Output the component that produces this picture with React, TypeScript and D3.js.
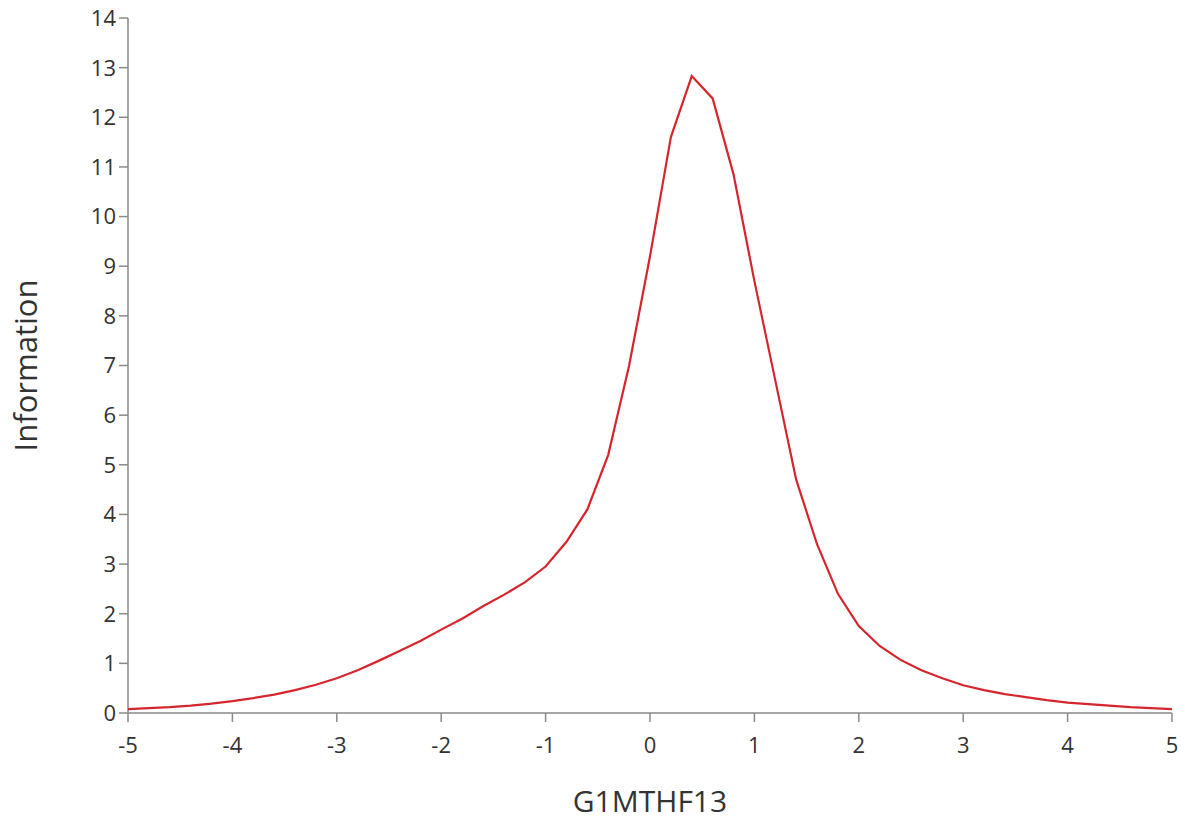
import React from "react";
import * as d3 from "d3";

const thetaValues: number[] = [
  -5, -4.8, -4.6, -4.4, -4.2, -4, -3.8, -3.6, -3.4, -3.2, -3, -2.8, -2.6, -2.4, -2.2, -2, -1.8, -1.6, -1.4, -1.2,
  -1, -0.8, -0.6, -0.4, -0.2, 0, 0.2, 0.4, 0.6, 0.8, 1, 1.2, 1.4, 1.6, 1.8, 2, 2.2, 2.4, 2.6, 2.8,
  3, 3.2, 3.4, 3.6, 3.8, 4, 4.2, 4.4, 4.6, 4.8, 5,
];
const informationValues: number[] = [
  0.08, 0.1, 0.12, 0.15, 0.19, 0.24, 0.3, 0.37, 0.46, 0.57, 0.7, 0.86, 1.05, 1.25, 1.45, 1.68, 1.9, 2.15, 2.38, 2.63,
  2.95, 3.45, 4.1, 5.2, 7.0, 9.2, 11.6, 12.83, 12.38, 10.85, 8.7, 6.7, 4.7, 3.4, 2.4, 1.75, 1.35, 1.07, 0.86, 0.7,
  0.56, 0.46, 0.38, 0.32, 0.26, 0.21, 0.18, 0.15, 0.12, 0.1, 0.08,
];
const xTicks: number[] = [-5, -4, -3, -2, -1, 0, 1, 2, 3, 4, 5];
const yTicks: number[] = [0, 1, 2, 3, 4, 5, 6, 7, 8, 9, 10, 11, 12, 13, 14];
const xTitle = "G1MTHF13";
const yTitle = "Information";

const W = 1185;
const H = 820;
const left = 128;
const right = 1172;
const top = 18;
const bottom = 713;

export default function App() {
  const x = d3.scaleLinear().domain([-5, 5]).range([left, right]);
  const y = d3.scaleLinear().domain([0, 14]).range([bottom, top]);
  const pts: [number, number][] = thetaValues.map((t, i) => [t, informationValues[i]]);
  const line = d3
    .line<[number, number]>()
    .x((d) => x(d[0]))
    .y((d) => y(d[1]));
  const axisColor = "#8a8a8a";
  const textColor = "#333333";
  const font = "'Open Sans', 'Segoe UI', sans-serif";
  return (
    <svg
      width={W}
      height={H}
      style={{ position: "absolute", left: 0, top: 0, background: "#ffffff" }}
    >
      <rect x={0} y={0} width={W} height={H} fill="#ffffff" />
      {/* y axis */}
      <line x1={left} x2={left} y1={top} y2={bottom} stroke={axisColor} strokeWidth={1.5} />
      {yTicks.map((t) => (
        <g key={"y" + t}>
          <line x1={left - 9} x2={left} y1={y(t)} y2={y(t)} stroke={axisColor} strokeWidth={1.5} />
          <text
            x={left - 12}
            y={y(t)}
            dy="0.36em"
            textAnchor="end"
            fontFamily={font}
            fontSize={22}
            fill={textColor}
          >
            {t}
          </text>
        </g>
      ))}
      {/* x axis */}
      <line x1={left} x2={right} y1={bottom} y2={bottom} stroke={axisColor} strokeWidth={1.5} />
      {xTicks.map((t) => (
        <g key={"x" + t}>
          <line x1={x(t)} x2={x(t)} y1={bottom} y2={bottom + 9} stroke={axisColor} strokeWidth={1.5} />
          <text
            x={x(t)}
            y={bottom + 40}
            textAnchor="middle"
            fontFamily={font}
            fontSize={22}
            fill={textColor}
          >
            {t}
          </text>
        </g>
      ))}
      {/* titles */}
      <text
        x={(left + right) / 2}
        y={812}
        textAnchor="middle"
        fontFamily={font}
        fontSize={30}
        fill={textColor}
      >
        {xTitle}
      </text>
      <text
        transform={`translate(37, ${(top + bottom) / 2}) rotate(-90)`}
        textAnchor="middle"
        fontFamily={font}
        fontSize={31}
        fill={textColor}
      >
        {yTitle}
      </text>
      {/* curve */}
      <path d={line(pts) || ""} fill="none" stroke="#d6262d" strokeWidth={2.2} strokeLinejoin="miter" />
    </svg>
  );
}
